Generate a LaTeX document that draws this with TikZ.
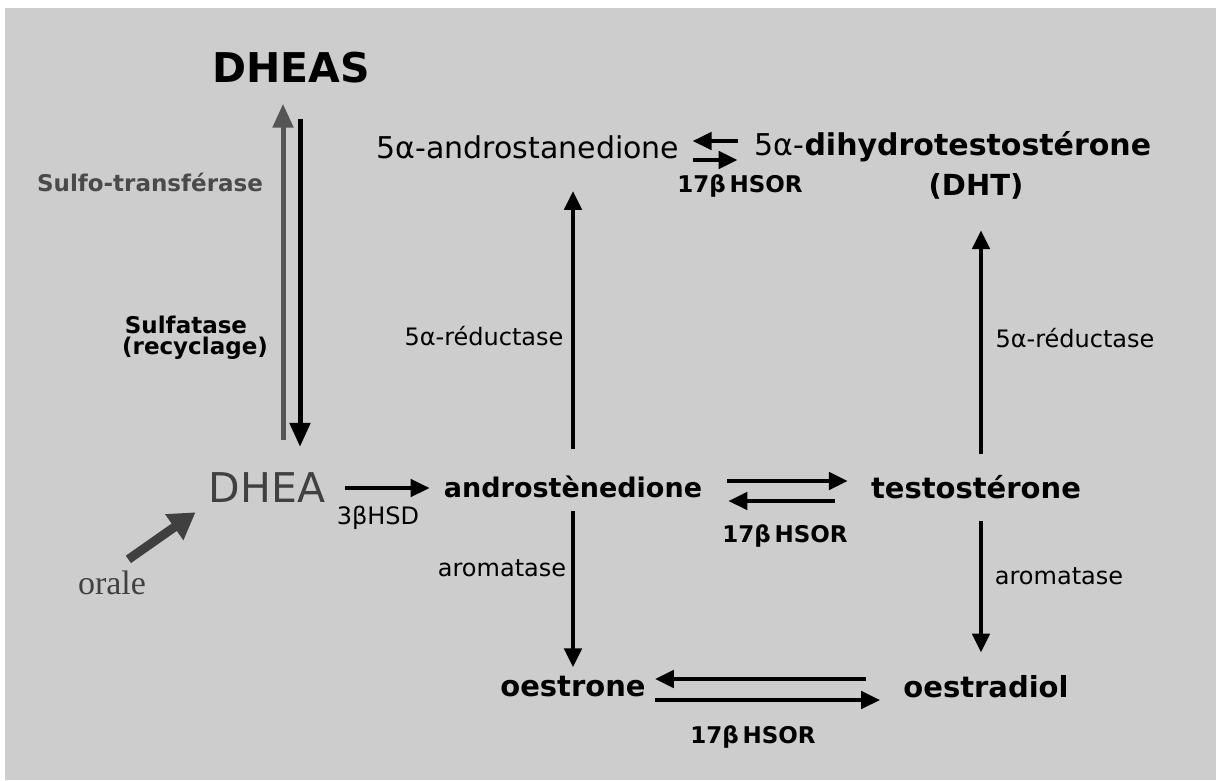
\documentclass[tikz,border=0pt]{standalone}
\usepackage{fontspec}
\setmainfont{DejaVu Sans}
\newfontfamily\oralefont{Liberation Serif}
\usepackage{xcolor}
\usepackage{tikz}
\usetikzlibrary{arrows.meta, positioning, calc}

\definecolor{bggray}{HTML}{CDCDCD}
\definecolor{dheagray}{HTML}{404040}
\definecolor{sulfogray}{HTML}{4A4A4A}
\definecolor{upgray}{HTML}{555555}

\tikzset{
  molb/.style={font=\fontsize{29}{34}\selectfont\bfseries, inner sep=0pt},
  molr/.style={font=\fontsize{30}{34}\selectfont, inner sep=0pt},
  enz/.style={font=\fontsize{24}{28}\selectfont, inner sep=0pt},
  enzb/.style={font=\fontsize{23}{28}\selectfont\bfseries, inner sep=0pt},
  arr/.style={line width=4.5pt, -{Triangle[length=19pt,width=17pt]}},
  bigarr/.style={line width=5pt, -{Triangle[length=24pt,width=20pt]}},
}

\begin{document}
\begin{tikzpicture}[x=1pt,y=-1pt]
  % Background
  \useasboundingbox (0,0) rectangle (1216,780);
  \fill[white] (0,0) rectangle (1216,780);
  \fill[bggray] (5,8) rectangle (1216,780);

  % Molecules
  \node[font=\fontsize{41}{46}\selectfont\bfseries, inner sep=0pt] (dheas) at (291,68) {DHEAS};
  \node[font=\fontsize{41}{46}\selectfont, text=dheagray, inner sep=0pt] (dhea) at (267,488) {DHEA};
  \node[molb, font=\fontsize{27}{32}\selectfont\bfseries] (andro) at (573,487) {androstènedione};
  \node[molb] (testo) at (976,487) {testostérone};
  \node[molr] (andron) at (528,147) {5α-androstanedione};
  \node[molb, font=\fontsize{30}{34}\selectfont\bfseries] (dht) at (953,147) {{\mdseries 5α-}dihydrotestostérone};
  \node[molb] (dhtabbr) at (976,186) {(DHT)};
  \node[molb] (oestrone) at (573,687) {oestrone};
  \node[molb] (oestradiol) at (986,687) {oestradiol};
  \node[font=\fontsize{34}{38}\oralefont, text=dheagray, inner sep=0pt] (orale) at (112,583) {orale};

  % Enzymes
  \node[enzb, text=sulfogray] (sulfot) at (150,182) {Sulfo-transférase};
  \node[enzb] (sulfat) at (186,325) {Sulfatase};
  \node[enzb] (recyc) at (195,348) {(recyclage)};
  \node[enz] (hsd) at (378,518) {3βHSD};
  \node[enz] (redl) at (484,336) {5α-réductase};
  \node[enz] (redr) at (1075,338) {5α-réductase};
  \node[enz] (aroml) at (502,568) {aromatase};
  \node[enz] (aromr) at (1059,576) {aromatase};
  \node[enzb] (hsora) at (740,186) {17β\,HSOR};
  \node[enzb] (hsorb) at (785,536) {17β\,HSOR};
  \node[enzb] (hsorc) at (753,737) {17β\,HSOR};

  % DHEA <-> DHEAS
  \draw[bigarr, upgray, shorten <=33pt, shorten >=20pt]
    ([xshift=-8pt]dheas.south |- dhea.north) -- ([xshift=-8pt]dheas.south);
  \draw[bigarr, shorten <=35pt, shorten >=26pt]
    ([xshift=9pt]dheas.south) -- ([xshift=9pt]dheas.south |- dhea.north);

  % orale intake
  \draw[line width=9pt, dheagray, -{Triangle[length=26pt,width=30pt]}, shorten <=20pt, shorten >=16pt]
    (orale.north) -- (dhea.south west);

  % Main pathway
  \draw[arr, shorten <=20pt, shorten >=14pt] (dhea.east) -- (dhea.east -| andro.west);
  \draw[arr, shorten <=27pt, shorten >=32pt] (andro.north) -- (andro.north |- andron.south);
  \draw[arr, shorten <=13pt, shorten >=9pt] (andro.south) -- (oestrone.north);
  \draw[arr, shorten <=21pt, shorten >=31pt]
    ([xshift=5pt]testo.north) -- ([xshift=5pt]testo.north |- dhtabbr.south);
  \draw[arr, shorten <=22pt, shorten >=23pt]
    ([xshift=-5pt]testo.south -| oestradiol.north) -- ([xshift=-5pt]oestradiol.north);

  % Reversible steps (17beta HSOR)
  \draw[arr, shorten <=17pt, shorten >=13pt] ([yshift=6pt]dht.west) -- ([yshift=6pt]andron.east);
  \draw[arr, shorten <=13pt, shorten >=17pt] ([yshift=-13pt]andron.east) -- ([yshift=-13pt]dht.west);
  \draw[arr, shorten <=25pt, shorten >=23pt] ([yshift=6pt]andro.east) -- ([yshift=6pt]testo.west);
  \draw[arr, shorten <=36pt, shorten >=26pt] ([yshift=-14pt]testo.west) -- ([yshift=-14pt]andro.east);
  \draw[arr, shorten <=37pt, shorten >=9pt] ([yshift=8pt]oestradiol.west) -- ([yshift=8pt]oestrone.east);
  \draw[arr, shorten <=9pt, shorten >=23pt] ([yshift=-13pt]oestrone.east) -- ([yshift=-13pt]oestradiol.west);
\end{tikzpicture}
\end{document}
